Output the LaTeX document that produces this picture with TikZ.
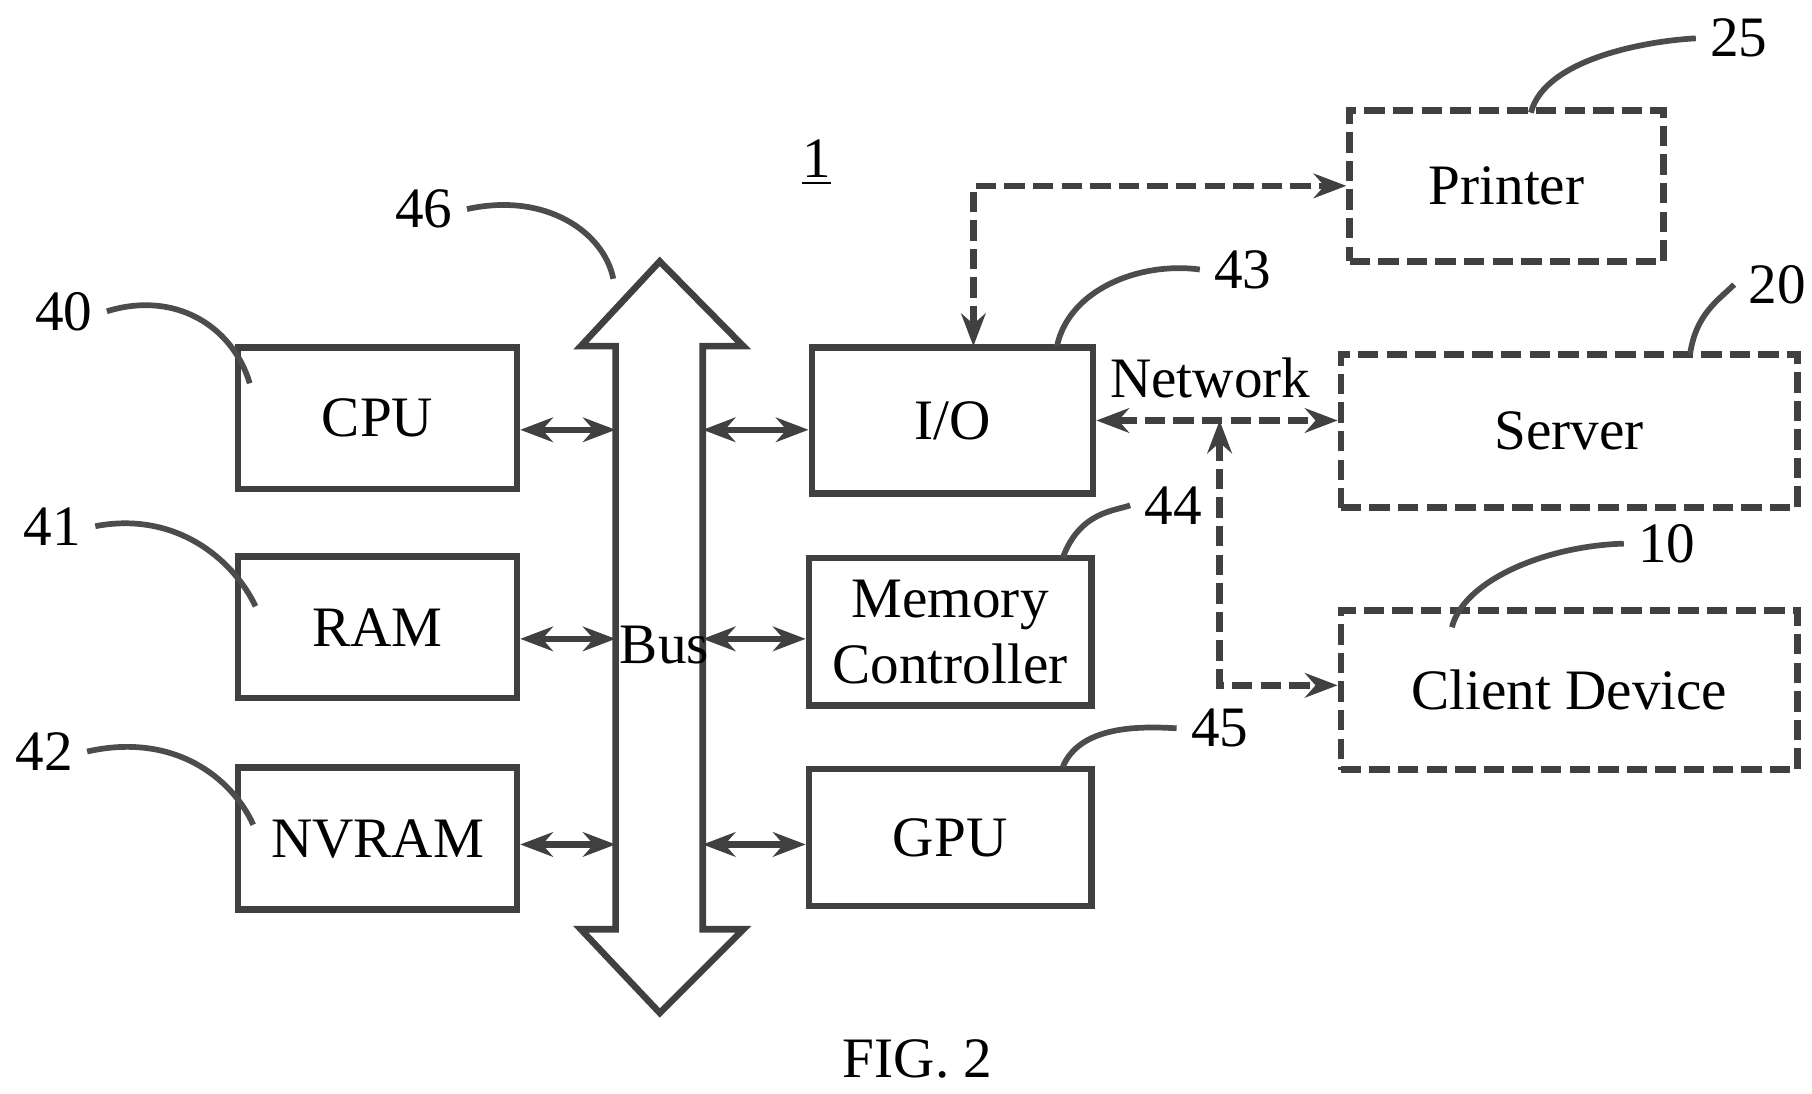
\documentclass[tikz,border=0pt]{standalone}
\usepackage{fontspec}
\setmainfont{Liberation Serif}
\usetikzlibrary{arrows.meta}
\begin{document}
\begin{tikzpicture}[x=0.01cm, y=-0.01cm, font=\fontsize{14}{16}\selectfont,
	box/.style={draw, line width=1.6pt, black!75, text=black, minimum width=2.4cm, minimum height=1.22cm, align=center, inner sep=0},
	dbox/.style={box, dash pattern=on 5pt off 2pt},
	link/.style={line width=1.6pt, black!75, {Stealth[length=8pt]}-{Stealth[length=8pt]}},
	dlink/.style={link, dash pattern=on 5pt off 2pt},
	lead/.style={line width=1.4pt, black!70}]
	\useasboundingbox (0,0) rectangle (1560,941);
	\node[box] (cpu) at (325,360) {CPU};
	\node[box] (ram) at (325,540) {RAM};
	\node[box] (nvram) at (325,722) {NVRAM};
	\node[box, minimum width=2.42cm, minimum height=1.26cm] (io) at (820,362) {I/O};
	\node[box, minimum width=2.43cm, minimum height=1.27cm] (mc) at (818,544) {Memory\\Controller};
	\node[box, minimum width=2.43cm, minimum height=1.18cm] (gpu) at (818,721) {GPU};
	\node[dbox, minimum width=2.7cm, minimum height=1.3cm] (printer) at (1297,160) {Printer};
	\node[dbox, minimum width=3.93cm, minimum height=1.32cm] (server) at (1351,371) {Server};
	\node[dbox, minimum width=3.93cm, minimum height=1.37cm] (client) at (1351,594) {Client Device};
	% bus
	\draw[line width=1.6pt, black!75] (530,298) -- (500,298) -- (568,225) -- (640,298) -- (605,298)
		-- (605,800) -- (640,800) -- (568,872) -- (500,800) -- (530,800) -- cycle;
	\node (bus) at (572,555) {Bus};
	\coordinate (bl1) at (530,370); \coordinate (br1) at (605,370);
	\coordinate (bl2) at (530,550); \coordinate (br2) at (605,550);
	\coordinate (bl3) at (530,727); \coordinate (br3) at (605,727);
	\draw[link] (cpu.east |- bl1) -- (bl1);
	\draw[link] (ram.east |- bl2) -- (bl2);
	\draw[link] (nvram.east |- bl3) -- (bl3);
	\draw[link] (br1) -- (io.west |- br1);
	\draw[link] (br2) -- (mc.west |- br2);
	\draw[link] (br3) -- (gpu.west |- br3);
	% network
	\coordinate (iotop) at (838,298);
	\coordinate (pr) at (838,160);
	\coordinate (net) at (1050,362);
	\coordinate (cl) at (1050,590);
	\draw[dlink] (iotop) -- (pr) -- (printer.west |- pr);
	\draw[dlink] (io.east |- net) -- (server.west |- net);
	\draw[dlink] (net) -- (cl) -- (client.west |- cl);
	\node (nw) at (1042,325) {Network};
	% reference numerals
	\node (n1) at (703,140) {\underline{1}};
	\node (n40) at (55,268) {40};
	\node (n41) at (45,453) {41};
	\node (n42) at (38,647) {42};
	\node (n46) at (365,180) {46};
	\node (n43) at (1070,232) {43};
	\node (n44) at (1010,435) {44};
	\node (n45) at (1050,627) {45};
	\node (n25) at (1497,33) {25};
	\node (n20) at (1530,245) {20};
	\node (n10) at (1435,468) {10};
	\draw[lead] (n40.east) .. controls (150,250) and (200,280) .. (215,330);
	\draw[lead] (n41.east) .. controls (150,440) and (200,480) .. (220,522);
	\draw[lead] (n42.east) .. controls (150,630) and (200,670) .. (218,710);
	\draw[lead] (n46.east) .. controls (470,165) and (520,200) .. (528,240);
	\draw[lead] (910,298) .. controls (920,250) and (980,225) .. (n43.west);
	\draw[lead] (915,480) .. controls (930,440) and (960,440) .. (n44.west);
	\draw[lead] (915,660) .. controls (930,625) and (980,625) .. (n45.west);
	\draw[lead] (1318,97) .. controls (1330,50) and (1420,35) .. (n25.west);
	\draw[lead] (1455,305) .. controls (1460,270) and (1480,258) .. (n20.west);
	\draw[lead] (1250,540) .. controls (1260,500) and (1330,470) .. (n10.west);
	\node (fig) at (790,912) {FIG. 2};
\end{tikzpicture}
\end{document}
